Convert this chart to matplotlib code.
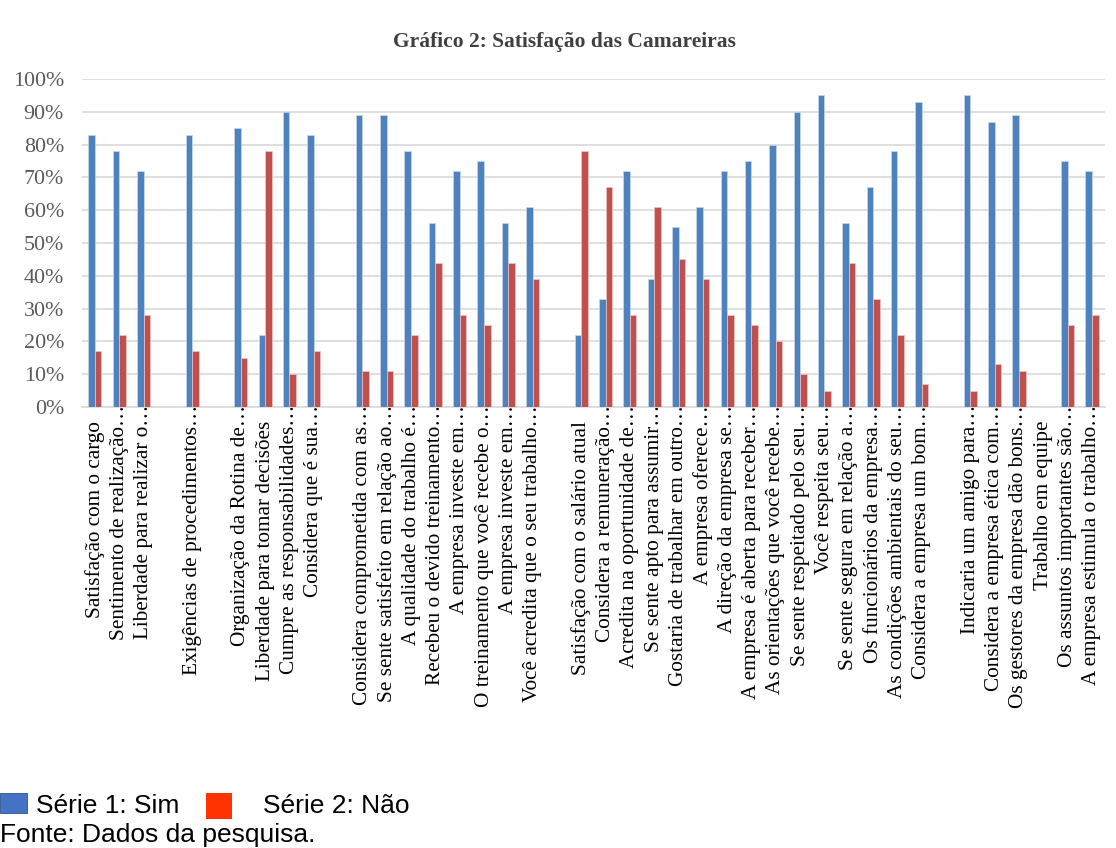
import matplotlib

matplotlib.use("Agg")
import matplotlib.pyplot as plt
from matplotlib.patches import Rectangle
from matplotlib.ticker import PercentFormatter
from matplotlib.transforms import ScaledTranslation

# one slot per question; empty strings are the blank spacer slots of the original
categories = [
    "Satisfação com o cargo",
    "Sentimento de realização…",
    "Liberdade para realizar o…",
    "",
    "Exigências de procedimentos…",
    "",
    "Organização da Rotina de…",
    "Liberdade para tomar decisões",
    "Cumpre as responsabilidades…",
    "Considera que é sua…",
    "",
    "Considera comprometida com as…",
    "Se sente satisfeito em relação ao…",
    "A qualidade do trabalho é…",
    "Recebeu o devido treinamento…",
    "A empresa investe em…",
    "O treinamento que você recebe o…",
    "A empresa investe em…",
    "Você acredita que o seu trabalho…",
    "",
    "Satisfação com o salário atual",
    "Considera a remuneração…",
    "Acredita na oportunidade de…",
    "Se sente apto para assumir…",
    "Gostaria de trabalhar em outro…",
    "A empresa oferece…",
    "A direção da empresa se…",
    "A empresa é aberta para receber…",
    "As orientações que você recebe…",
    "Se sente respeitado pelo seu…",
    "Você respeita seu…",
    "Se sente segura em relação a…",
    "Os funcionários da empresa…",
    "As condições ambientais do seu…",
    "Considera a empresa um bom…",
    "",
    "Indicaria um amigo para…",
    "Considera a empresa ética com…",
    "Os gestores da empresa dão bons…",
    "Trabalho em equipe",
    "Os assuntos importantes são…",
    "A empresa estimula o trabalho…",
]

sim = [83, 78, 72, 0, 83, 0, 85, 22, 90, 83, 0,
       89, 89, 78, 56, 72, 75, 56, 61, 0,
       22, 33, 72, 39, 55, 61, 72, 75, 80, 90, 95, 56, 67, 78, 93, 0,
       95, 87, 89, 0, 75, 72]
nao = [17, 22, 28, 0, 17, 0, 15, 78, 10, 17, 0,
       11, 11, 22, 44, 28, 25, 44, 39, 0,
       78, 67, 28, 61, 45, 39, 28, 25, 20, 10, 5, 44, 33, 22, 7, 0,
       5, 13, 11, 0, 25, 28]

BLUE = "#4F81BD"
RED = "#C0504D"
SERIF = ["Liberation Serif", "DejaVu Serif"]
SANS = ["Liberation Sans", "DejaVu Sans"]
H = 848.0
W = 1116.0

fig = plt.figure(figsize=(11.16, 8.48), dpi=100)
ax = fig.add_axes([0.0735, 0.520, 0.9165, 0.3868])

x = list(range(len(categories)))
w = 0.27
ax.bar([i - w / 2 for i in x], sim, width=w, color=BLUE, edgecolor="#C9D7EA", linewidth=0.5, zorder=3)
ax.bar([i + w / 2 for i in x], nao, width=w, color=RED, edgecolor="#EBC7C6", linewidth=0.5, zorder=3)

ax.set_xlim(-0.53, len(categories) - 0.47)
ax.set_ylim(0, 100)
ax.set_yticks(range(0, 101, 10))
ax.yaxis.set_major_formatter(PercentFormatter(decimals=0))
ax.grid(axis="y", color="#D9D9D9", linewidth=1.2, zorder=0)
for side in ["left", "right", "top"]:
    ax.spines[side].set_visible(False)
ax.spines["bottom"].set_color("#D9D9D9")
ax.spines["bottom"].set_linewidth(1.2)

ax.set_xticks(x)
ax.set_xticklabels(categories, rotation=90, family=SERIF, fontsize=15.3, color="#000000")
ax.tick_params(axis="x", length=0, pad=10)
ax.tick_params(axis="y", length=0, pad=13, labelsize=15.8, labelcolor="#595959")
for lab in ax.get_yticklabels():
    lab.set_family(SERIF)

# truncated labels: the dots sit up against the axis in the original
lift = ScaledTranslation(0, 16 / 100, fig.dpi_scale_trans)
for lab in ax.get_xticklabels():
    if lab.get_text().endswith("…"):
        lab.set_transform(lab.get_transform() + lift)

fig.text(564 / W, 1 - 42 / H, "Gráfico 2: Satisfação das Camareiras", ha="center", va="center",
         family=SERIF, fontsize=15.5, fontweight="bold", color="#404040")

# legend drawn by hand, as in the source document
fig.patches.append(Rectangle((0.0, 1 - 813 / H), 27 / W, 20 / H,
                             transform=fig.transFigure, facecolor="#4472C4", edgecolor="#2F528F", linewidth=0.6))
fig.patches.append(Rectangle((206 / W, 1 - 819 / H), 26 / W, 26 / H,
                             transform=fig.transFigure, facecolor="#FF3300", edgecolor="none"))
fig.text(36 / W, 1 - 813 / H, "Série 1: Sim", ha="left", va="baseline", family=SANS, fontsize=19)
fig.text(263 / W, 1 - 813 / H, "Série 2: Não", ha="left", va="baseline", family=SANS, fontsize=19)
fig.text(0.0, 1 - 842 / H, "Fonte: Dados da pesquisa.", ha="left", va="baseline", family=SANS, fontsize=19)

fig.savefig("out.png", dpi=100, facecolor="white")
